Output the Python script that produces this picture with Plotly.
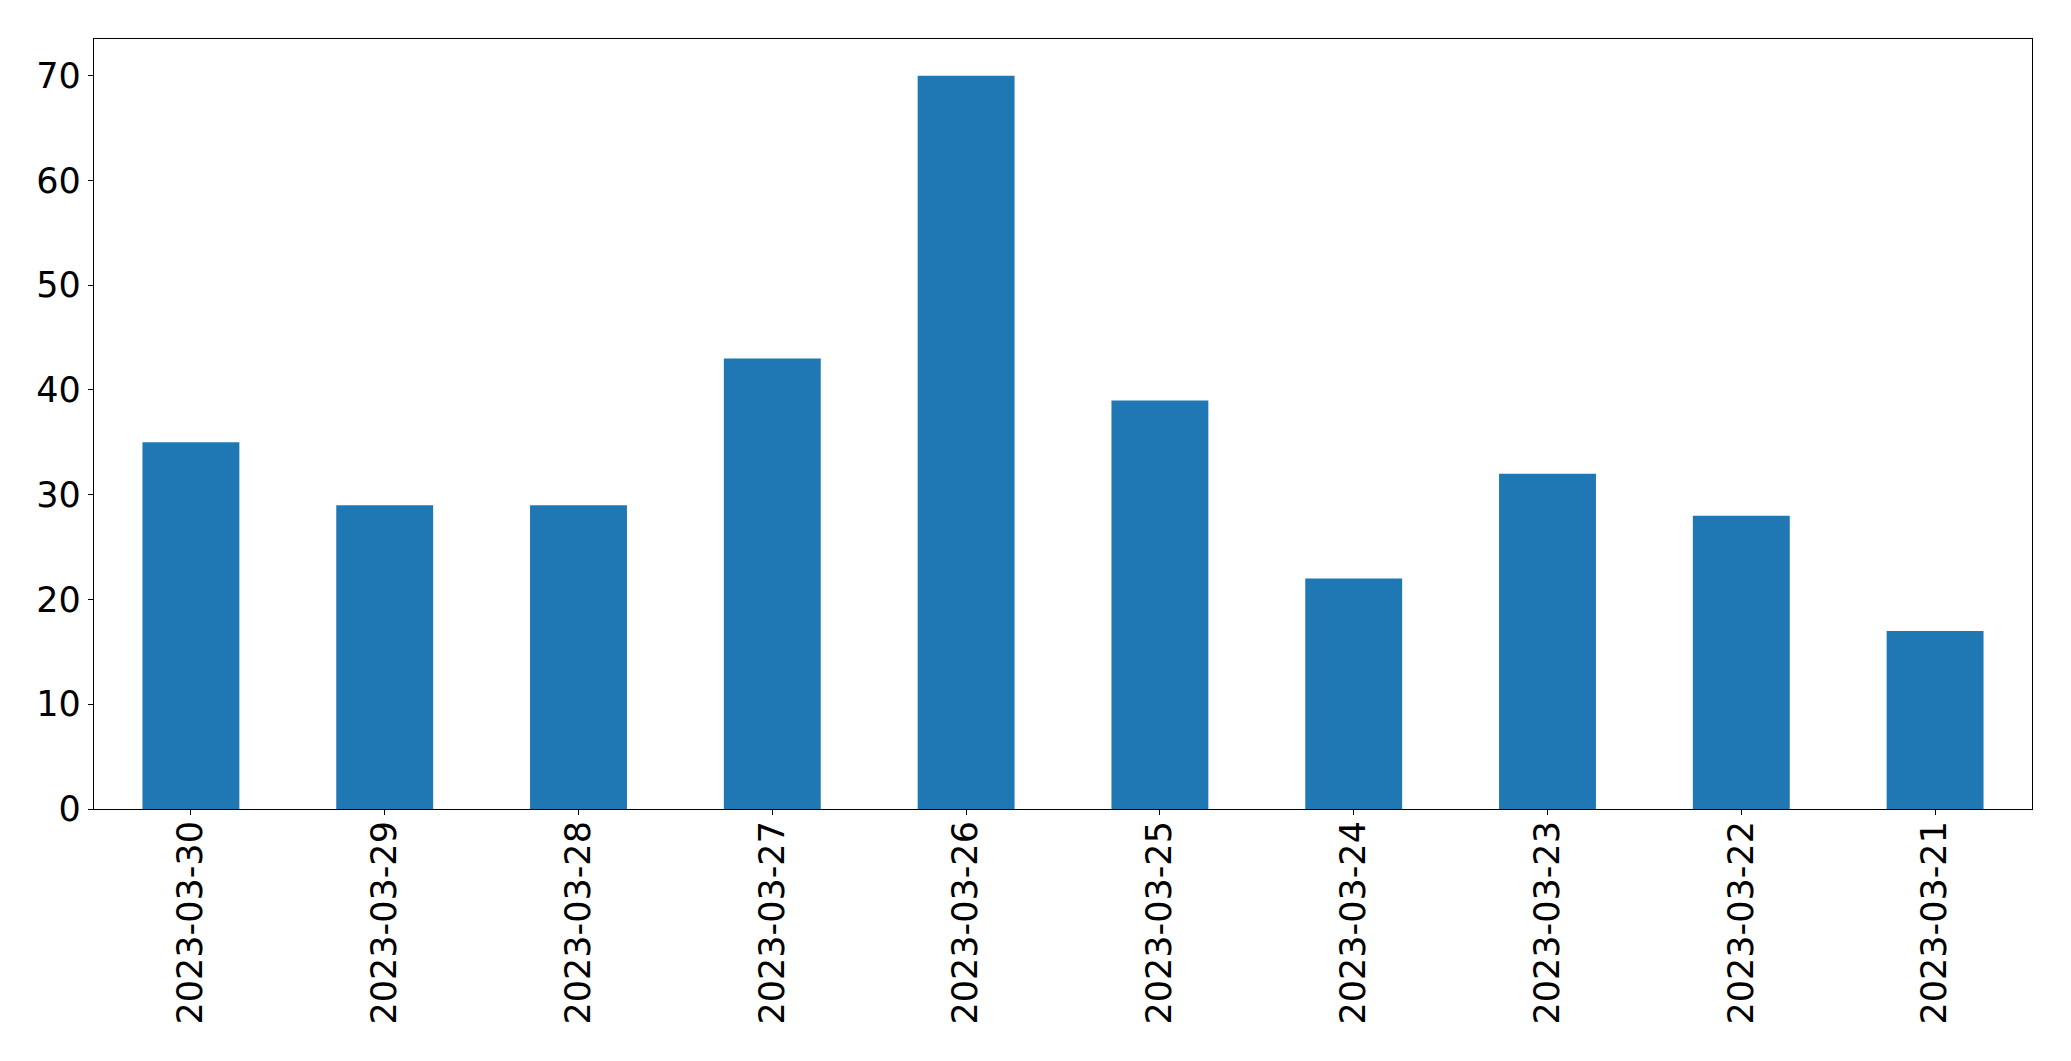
import plotly.graph_objects as go

dates = ["2023-03-30", "2023-03-29", "2023-03-28", "2023-03-27", "2023-03-26",
         "2023-03-25", "2023-03-24", "2023-03-23", "2023-03-22", "2023-03-21"]
counts = [35, 29, 29, 43, 70, 39, 22, 32, 28, 17]
y_ticks = [0, 10, 20, 30, 40, 50, 60, 70]

fig = go.Figure(go.Bar(x=dates, y=counts, width=0.5, marker=dict(color="#1f77b4", line=dict(width=0))))

font = dict(family="DejaVu Sans", size=35, color="black")
fig.update_layout(
    width=2071, height=1061,
    margin=dict(l=94, r=39, t=39, b=252),
    paper_bgcolor="white", plot_bgcolor="white",
    showlegend=False,
    font=font,
)
fig.update_xaxes(
    type="category", range=[-0.5, 9.5],
    showline=True, linecolor="black", linewidth=1.2, mirror=True,
    ticks="outside", ticklen=5, tickcolor="black", tickwidth=1.2,
    tickangle=-90, showgrid=False, tickfont=font, ticklabelstandoff=-8,
)
fig.update_yaxes(
    range=[0, 73.5], tickvals=y_ticks,
    showline=True, linecolor="black", linewidth=1.2, mirror=True,
    ticks="outside", ticklen=5, tickcolor="black", tickwidth=1.2,
    showgrid=False, zeroline=False, tickfont=font,
)
fig.write_html("out.html")
